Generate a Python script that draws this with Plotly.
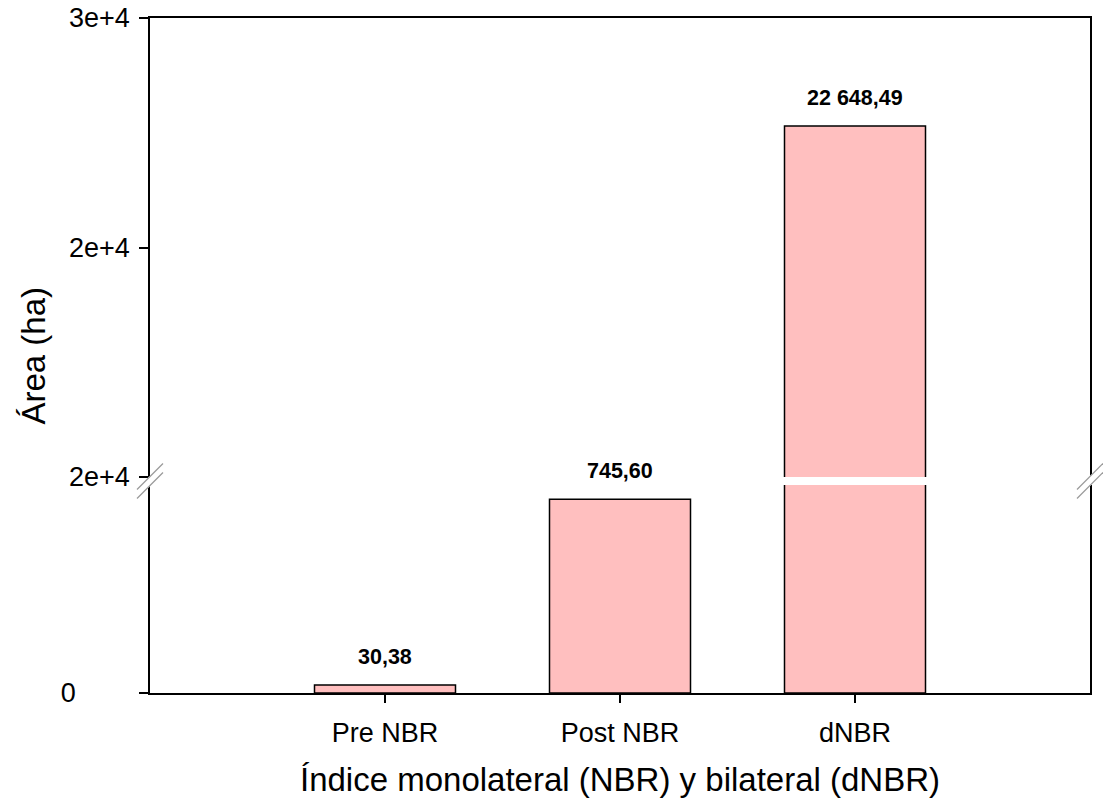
import plotly.graph_objects as go

# Burned area per index
categories = ["Pre NBR", "Post NBR", "dNBR"]
area_ha = [30.38, 745.60, 22648.49]

# Broken y axis: lower and upper segments
lower_range = [0, 800]
upper_range = [15000, 25000]
lower_ticks = [0]
lower_ticktext = ["0"]
upper_ticks = [15000, 20000, 25000]
upper_ticktext = ["2e+4", "2e+4", "3e+4"]

x_title = "Índice monolateral (NBR) y bilateral (dNBR)"
y_title = "Área (ha)"

FONT = "Arial, Liberation Sans, sans-serif"
BAR_FILL = "#FFBFBF"

# page geometry (pixels) used for the frame and the break marks
W, H = 1103, 805
L, R, T, B = 150, 13, 18, 112
PW, PH = W - L - R, H - T - B
GAP_TOP, GAP_BOT = 477, 485  # white band between the two segments


def px_x(px):
    return (px - L) / PW


def px_y(py):
    return (H - B - py) / PH


def fmt(v):
    s = f"{v:,.2f}"
    return s.replace(",", " ").replace(".", ",")


xs = list(range(len(categories)))

fig = go.Figure()
bar_style = dict(
    marker=dict(color=BAR_FILL, line=dict(color="black", width=1.5)),
    width=0.6,
    showlegend=False,
    hoverinfo="skip",
)
fig.add_trace(go.Bar(x=xs, y=area_ha, xaxis="x", yaxis="y", **bar_style))
fig.add_trace(go.Bar(x=xs, y=area_ha, xaxis="x2", yaxis="y2", **bar_style))

# value labels above each bar, on whichever segment holds the bar top
for xi, v in zip(xs, area_ha):
    on_upper = v > lower_range[1]
    fig.add_annotation(
        x=xi, y=v,
        xref="x2" if on_upper else "x",
        yref="y2" if on_upper else "y",
        text=f"<b>{fmt(v)}</b>",
        showarrow=False, yanchor="bottom", yshift=14,
        font=dict(family=FONT, size=21.5, color="black"),
    )


def axis_common(ticklen=9, standoff=9):
    return dict(
        showline=True, linecolor="black", linewidth=1.5,
        showgrid=False, zeroline=False, automargin=False,
        ticks="outside", ticklen=ticklen, tickwidth=1.5, tickcolor="black",
        tickfont=dict(family=FONT, size=27, color="black"),
        ticklabelstandoff=standoff,
    )


fig.update_layout(
    width=W, height=H,
    margin=dict(l=L, r=R, t=T, b=B, autoexpand=False),
    paper_bgcolor="white", plot_bgcolor="white",
    bargap=0.4,
    xaxis=dict(
        **axis_common(8, 7),
        domain=[0, 1], anchor="y", range=[-1, 3],
        tickvals=xs, ticktext=categories,
        title=dict(text=x_title, font=dict(family=FONT, size=33, color="black"), standoff=21),
    ),
    xaxis2=dict(
        domain=[0, 1], anchor="y2", range=[-1, 3], matches="x",
        side="top", showline=True, linecolor="black", linewidth=1.5,
        showticklabels=False, ticks="", showgrid=False, zeroline=False,
        automargin=False,
    ),
    yaxis=dict(
        **axis_common(9, 58),
        domain=[0, px_y(GAP_BOT)], anchor="x", range=lower_range,
        tickvals=lower_ticks, ticktext=lower_ticktext, mirror=True,
    ),
    yaxis2=dict(
        **axis_common(9, 4),
        domain=[px_y(GAP_TOP), 1], anchor="x2", range=upper_range,
        tickvals=upper_ticks, ticktext=upper_ticktext, mirror=True,
    ),
)

# y axis title centred on the whole plot height
fig.add_annotation(
    x=px_x(33), y=0.5, xref="paper", yref="paper",
    xanchor="center", yanchor="middle",
    text=y_title, textangle=-90, showarrow=False,
    font=dict(family=FONT, size=33, color="black"),
)

# break marks: white band with grey edges across both vertical frame lines
for cx in (L, L + PW):
    cy = (GAP_TOP + GAP_BOT) / 2
    d = 13  # half-length along the diagonal
    fig.add_shape(
        type="line", xref="paper", yref="paper",
        x0=px_x(cx - d), y0=px_y(cy + d), x1=px_x(cx + d), y1=px_y(cy - d),
        line=dict(color="white", width=7),
    )
    for off in (-4.5, 4.5):
        fig.add_shape(
            type="line", xref="paper", yref="paper",
            x0=px_x(cx - d), y0=px_y(cy + d + off), x1=px_x(cx + d), y1=px_y(cy - d + off),
            line=dict(color="#9a9a9a", width=1.2),
        )

fig.write_html("out.html")
